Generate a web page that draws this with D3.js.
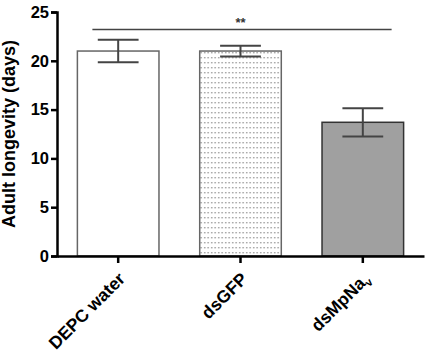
<!DOCTYPE html>
<html>
<head>
<meta charset="utf-8">
<script src="https://cdn.jsdelivr.net/npm/d3@7"></script>
<style>
  body { margin: 0; background: #fff; }
  text { font-family: "Liberation Sans", Arial, sans-serif; }
</style>
</head>
<body>
<script>
const width = 427;
const height = 354;

// data
const groups = ["DEPC water", "dsGFP", "dsMpNa"];
const means = [21.0, 21.0, 13.7];
const sems = [1.15, 0.55, 1.45];
const yTicks = [0, 5, 10, 15, 20, 25];

const margin = {top: 12, right: 3, bottom: 98, left: 57};

let svg = d3.select("body").append("svg")
    .attr("width", width)
    .attr("height", height);

// dotted fill for dsGFP
let defs = svg.append("defs");
let pat = defs.append("pattern")
    .attr("id", "dots")
    .attr("patternUnits", "userSpaceOnUse")
    .attr("width", 3.5)
    .attr("height", 5);
pat.append("rect").attr("width", 3.5).attr("height", 5).attr("fill", "#fff");
pat.append("rect").attr("x", 1).attr("y", 2).attr("width", 1.4).attr("height", 1.4).attr("fill", "#999");

let x = d3.scaleBand()
    .domain(groups)
    .range([margin.left, width - margin.right])
    .paddingInner(0.333)
    .paddingOuter(0.1667);

let y = d3.scaleLinear()
    .domain([0, 25])
    .range([height - margin.bottom, margin.top]);

let fills = ["#ffffff", "url(#dots)", "#a0a0a0"];
let strokes = ["#666", "#666", "#333"];

// bars
svg.selectAll("rect.bar")
    .data(groups)
    .enter()
    .append("rect")
    .attr("class", "bar")
    .attr("x", d => x(d))
    .attr("y", (d, i) => y(means[i]))
    .attr("width", x.bandwidth())
    .attr("height", (d, i) => y(0) - y(means[i]))
    .attr("fill", (d, i) => fills[i])
    .attr("stroke", (d, i) => strokes[i])
    .attr("stroke-width", 1.5);

// error bars
let eb = svg.selectAll("g.err")
    .data(groups)
    .enter()
    .append("g")
    .attr("class", "err")
    .attr("stroke", "#444")
    .attr("stroke-width", 2);
let capW = x.bandwidth() / 4;
eb.append("line")
    .attr("x1", d => x(d) + x.bandwidth() / 2)
    .attr("x2", d => x(d) + x.bandwidth() / 2)
    .attr("y1", (d, i) => y(means[i] + sems[i]))
    .attr("y2", (d, i) => y(means[i] - sems[i]));
eb.append("line")
    .attr("x1", d => x(d) + x.bandwidth() / 2 - capW)
    .attr("x2", d => x(d) + x.bandwidth() / 2 + capW)
    .attr("y1", (d, i) => y(means[i] + sems[i]))
    .attr("y2", (d, i) => y(means[i] + sems[i]));
eb.append("line")
    .attr("x1", d => x(d) + x.bandwidth() / 2 - capW)
    .attr("x2", d => x(d) + x.bandwidth() / 2 + capW)
    .attr("y1", (d, i) => y(means[i] - sems[i]))
    .attr("y2", (d, i) => y(means[i] - sems[i]));

// significance line
let sigY = y(23.2);
svg.append("line")
    .attr("x1", x(groups[0]) + 15)
    .attr("x2", x(groups[2]) + x.bandwidth() - 12)
    .attr("y1", sigY)
    .attr("y2", sigY)
    .attr("stroke", "#444")
    .attr("stroke-width", 1.5);
svg.append("text")
    .attr("x", x(groups[1]) + x.bandwidth() / 2)
    .attr("y", sigY - 3)
    .attr("text-anchor", "middle")
    .attr("font-size", 13)
    .attr("font-weight", "bold")
    .attr("fill", "#333")
    .text("**");

// y axis
let yAxis = svg.append("g")
    .attr("transform", `translate(${margin.left},0)`)
    .call(d3.axisLeft(y).tickValues(yTicks).tickSize(6).tickPadding(2));
yAxis.select(".domain").attr("stroke", "#000").attr("stroke-width", 2.5);
yAxis.selectAll(".tick line").attr("stroke", "#000").attr("stroke-width", 2.5);
yAxis.selectAll(".tick text")
    .attr("font-size", 16.5)
    .attr("font-weight", "bold")
    .attr("font-family", "Liberation Sans, Arial, sans-serif")
    .attr("fill", "#000");

// x axis
let xAxis = svg.append("g")
    .attr("transform", `translate(0,${y(0)})`)
    .call(d3.axisBottom(x).tickSize(7).tickSizeOuter(0).tickFormat(""));
xAxis.select(".domain").attr("stroke", "#000").attr("stroke-width", 2.5);
xAxis.selectAll(".tick line").attr("stroke", "#000").attr("stroke-width", 2.5);

// x labels, rotated
let labels = svg.selectAll("text.xlab")
    .data(groups)
    .enter()
    .append("text")
    .attr("class", "xlab")
    .attr("text-anchor", "end")
    .attr("font-size", 17.5)
    .attr("font-weight", "bold")
    .attr("transform", d => `translate(${x(d) + x.bandwidth() / 2 + 8},${y(0) + 24}) rotate(-45)`)
    .text(d => d);
labels.filter(d => d === "dsMpNa")
    .append("tspan")
    .attr("font-size", 11)
    .attr("dy", 4)
    .text("v");

// y title
svg.append("text")
    .attr("transform", `translate(15,134) rotate(-90)`)
    .attr("text-anchor", "middle")
    .attr("font-size", 18)
    .attr("font-weight", "bold")
    .text("Adult longevity (days)");
</script>
</body>
</html>
